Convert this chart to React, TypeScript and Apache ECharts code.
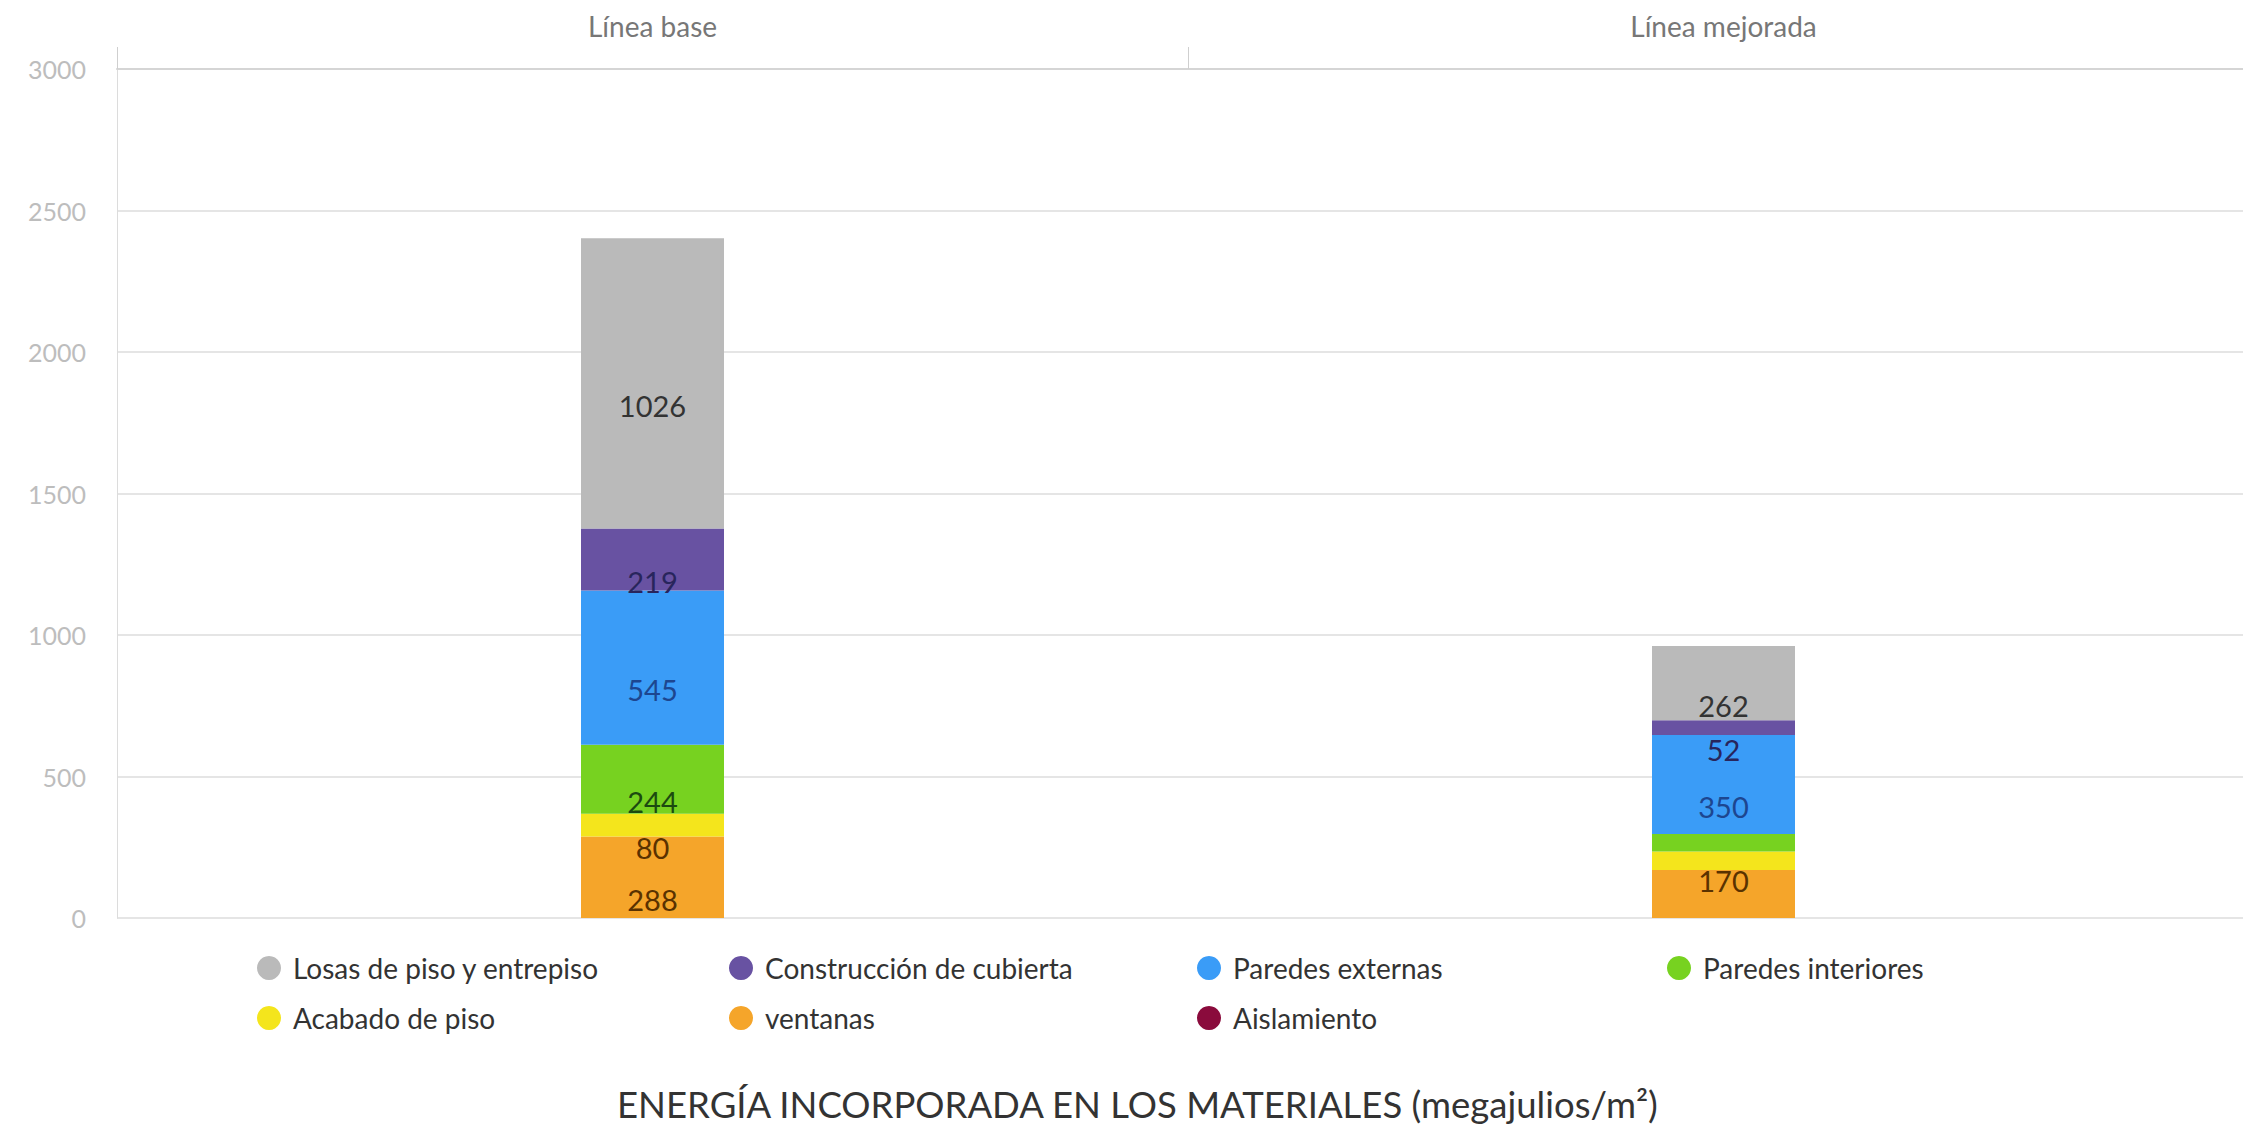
import React, { useEffect, useRef } from "react";
import * as echarts from "echarts";

const categories = ["Línea base", "Línea mejorada"];
const seriesNames = [
  "ventanas",
  "Acabado de piso",
  "Paredes interiores",
  "Paredes externas",
  "Construcción de cubierta",
  "Losas de piso y entrepiso",
  "Aislamiento",
];
const ventanas = [288, 170];
const acabadoDePiso = [80, 65];
const paredesInteriores = [244, 62];
const paredesExternas = [545, 350];
const construccionCubierta = [219, 52];
const losas = [1026, 262];
const aislamiento = [0, 0];
const seriesValues = [ventanas, acabadoDePiso, paredesInteriores, paredesExternas, construccionCubierta, losas, aislamiento];
// labels that are not printed in the reference
const hiddenLabels: [string, string][] = [
  ["Línea mejorada", "Acabado de piso"],
  ["Línea mejorada", "Paredes interiores"],
  ["Línea base", "Aislamiento"],
  ["Línea mejorada", "Aislamiento"],
];
const yTicks = [0, 500, 1000, 1500, 2000, 2500, 3000];
const title = "ENERGÍA INCORPORADA EN LOS MATERIALES (megajulios/m²)";

const colors: Record<string, string> = {
  "ventanas": "#f5a52a",
  "Acabado de piso": "#f4e51c",
  "Paredes interiores": "#77d220",
  "Paredes externas": "#3a9cf7",
  "Construcción de cubierta": "#6852a2",
  "Losas de piso y entrepiso": "#bababa",
  "Aislamiento": "#8a0b3c",
};
const labelColors: Record<string, string> = {
  "ventanas": "#5a3200",
  "Acabado de piso": "#5a3200",
  "Paredes interiores": "#1c4a10",
  "Paredes externas": "#1d4690",
  "Construcción de cubierta": "#28255c",
  "Losas de piso y entrepiso": "#333333",
  "Aislamiento": "#ffffff",
};

const legendOrder = [
  "Losas de piso y entrepiso",
  "Construcción de cubierta",
  "Paredes externas",
  "Paredes interiores",
  "Acabado de piso",
  "ventanas",
  "Aislamiento",
];
const legendCols = [252, 724, 1192, 1662];
const legendRows = [949, 999];

export default function App() {
  const ref = useRef<HTMLDivElement>(null);
  useEffect(() => {
    const chart = echarts.init(ref.current!, null, { renderer: "svg" });
    const font = "Lato, 'Noto Sans', sans-serif";
    const series = seriesNames.map((name, si) => ({
      name,
      type: "bar",
      stack: "total",
      barWidth: 143,
      itemStyle: { color: colors[name] },
      label: {
        show: true,
        position: "inside",
        offset: [0, 22],
        color: labelColors[name],
        fontSize: 29,
        fontFamily: font,
        formatter: (p: any) =>
          hiddenLabels.some(([c, s]) => c === p.name && s === name) ? "" : String(p.value),
      },
      data: seriesValues[si].map((v, ci) =>
        name === "ventanas" && ci === 1 ? { value: v, label: { offset: [0, -13] } } : v
      ),
    }));
    const legends = legendOrder.map((name, i) => ({
      data: [name],
      left: legendCols[i % 4],
      top: legendRows[Math.floor(i / 4)],
      icon: "circle",
      itemWidth: 24,
      itemHeight: 24,
      textStyle: { fontSize: 28, color: "#333", fontFamily: font, padding: [0, 0, 0, 7] },
    }));
    chart.setOption({
      animation: false,
      textStyle: { fontFamily: font },
      title: {
        text: title,
        left: 612,
        top: 1080,
        textStyle: { fontSize: 36.5, fontWeight: "normal", color: "#333", fontFamily: font },
      },
      legend: legends,
      grid: { left: 117, right: 0, top: 69, bottom: 206, containLabel: false },
      xAxis: {
        type: "category",
        position: "top",
        data: categories,
        axisLine: { show: true, onZero: false, lineStyle: { color: "#d5d5d5", width: 2 } },
        axisTick: { show: true, length: 22, lineStyle: { color: "#cfcfcf" } },
        axisLabel: { color: "#777", fontSize: 28, margin: 29, fontFamily: font },
      },
      yAxis: {
        type: "value",
        min: yTicks[0],
        max: yTicks[yTicks.length - 1],
        interval: yTicks[1] - yTicks[0],
        axisLine: { show: true, lineStyle: { color: "#dcdcdc" } },
        axisTick: { show: false },
        splitLine: { lineStyle: { color: "#dddddd", width: 1.5 } },
        axisLabel: {
          color: "#bdbdbd",
          fontSize: 25,
          margin: 31,
          fontFamily: font,
          formatter: (v: number) => String(v),
        },
      },
      series,
    });
    return () => chart.dispose();
  }, []);
  // the plot area runs a little past the right edge of the window, as in the reference
  return <div ref={ref} style={{ position: "fixed", left: 0, top: 0, width: 2259, height: 1124, background: "#fff" }} />;
}
